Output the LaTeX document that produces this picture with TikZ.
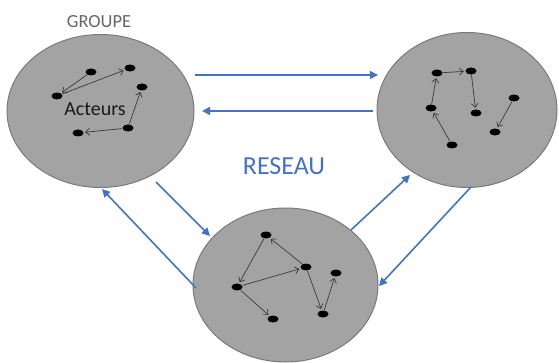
\documentclass[tikz,border=0pt]{standalone}
\usepackage{fontspec}
\setmainfont{Carlito}
\usetikzlibrary{arrows.meta,shapes.geometric}
\definecolor{cfill}{HTML}{A3A3A3}
\definecolor{cedge}{HTML}{7A7A7A}
\definecolor{cblue}{HTML}{4472C4}
\definecolor{cgrey}{HTML}{666666}
\definecolor{clink}{HTML}{3A3A3A}
\tikzset{
  grp/.style={ellipse, draw=cedge, fill=cfill, line width=1pt, inner sep=0pt},
  dot/.style={ellipse, fill=black, minimum width=11pt, minimum height=7pt, inner sep=0pt},
  link/.style={draw=clink, line width=0.7pt, -{Straight Barb[length=4pt,width=7pt]}, shorten >=1.5pt, shorten <=0.5pt},
  flow/.style={draw=cblue, line width=1.6pt, -{Triangle[length=8pt,width=8pt]}},
}
\begin{document}
\begin{tikzpicture}[x=1pt,y=-1pt]
\useasboundingbox (0,0) rectangle (559,363);
% groups
\node[grp, minimum width=187pt, minimum height=153pt] (G1) at (100.5,111) {};
\node[grp, minimum width=180pt, minimum height=155pt] (G2) at (467,110) {};
\node[grp, minimum width=185pt, minimum height=154pt] (G3) at (285.5,285) {};
% labels
\node[text=cgrey, font=\fontsize{18.5}{20}\selectfont] (tg) at (99,22) {GROUPE};
\node[text=cblue, font=\fontsize{26}{30}\selectfont] (tr) at (284,166) {RESEAU};
% left group dots
\node[dot] (a) at (91,72) {};
\node[dot] (b) at (130,68) {};
\node[dot] (c) at (57,96) {};
\node[dot] (d) at (142,87) {};
\node[dot] (e) at (128,128) {};
\node[dot] (f) at (78,133) {};
\node[text=black!90, font=\fontsize{20}{22}\selectfont] (ta) at (95,109) {Acteurs};
\draw[link] (a) -- (c);
\draw[link] (c) -- (b);
\draw[link] (e) -- (d);
\draw[link] (e) -- (f);
% right group dots
\node[dot] (g) at (437,73) {};
\node[dot] (h) at (471,71) {};
\node[dot] (i) at (431,108) {};
\node[dot] (j) at (476,113) {};
\node[dot] (k) at (514,98) {};
\node[dot] (l) at (495,132) {};
\node[dot] (m) at (452,145) {};
\draw[link] (g) -- (h);
\draw[link] (h) -- (j);
\draw[link] (i) -- (g);
\draw[link] (m) -- (i);
\draw[link] (k) -- (l);
% bottom group dots
\node[dot] (n) at (266,235) {};
\node[dot] (o) at (306,267) {};
\node[dot] (p) at (237,287) {};
\node[dot] (q) at (336,273) {};
\node[dot] (r) at (273,319) {};
\node[dot] (s) at (323,314) {};
\draw[link] (n) -- (p);
\draw[link] (o) -- (n);
\draw[link] (p) -- (o);
\draw[link] (p) -- (r);
\draw[link] (o) -- (s);
\draw[link] (s) -- (q);
% flow arrow end points
\coordinate (f1s) at (195,75);  \coordinate (f1e) at (378,75);
\coordinate (f2s) at (373,111); \coordinate (f2e) at (202,111);
\coordinate (f3s) at (156,182); \coordinate (f3e) at (210,236);
\coordinate (f4s) at (196,288); \coordinate (f4e) at (102,189);
\coordinate (f5s) at (351,230); \coordinate (f5e) at (410,175);
\coordinate (f6s) at (471,187); \coordinate (f6e) at (379,286);
\draw[flow] (f1s) -- (f1e);
\draw[flow] (f2s) -- (f2e);
\draw[flow] (f3s) -- (f3e);
\draw[flow] (f4s) -- (f4e);
\draw[flow] (f5s) -- (f5e);
\draw[flow] (f6s) -- (f6e);
\end{tikzpicture}
\end{document}
